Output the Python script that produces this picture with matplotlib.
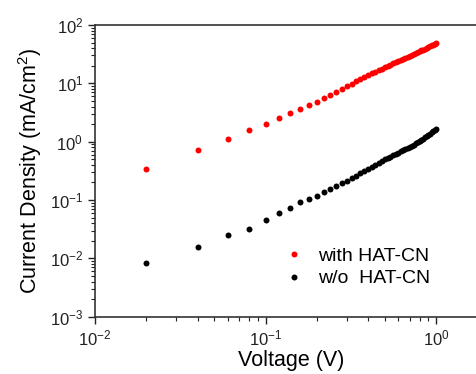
import numpy as np
import matplotlib
matplotlib.use("Agg")
import matplotlib.pyplot as plt
from matplotlib.ticker import NullFormatter, LogLocator

plt.rcParams["font.family"] = ["Liberation Sans", "DejaVu Sans"]
plt.rcParams["mathtext.fontset"] = "custom"
plt.rcParams["mathtext.rm"] = "Liberation Sans"
plt.rcParams["mathtext.it"] = "Liberation Sans:italic"

# voltage steps (V), same for both devices
voltage = [0.02, 0.04, 0.06, 0.08, 0.10, 0.12, 0.14, 0.16, 0.18, 0.20,
           0.22, 0.24, 0.26, 0.28, 0.30, 0.32, 0.34, 0.36, 0.38, 0.40,
           0.42, 0.44, 0.46, 0.48, 0.50, 0.52, 0.54, 0.56, 0.58, 0.60,
           0.62, 0.64, 0.66, 0.68, 0.70, 0.72, 0.74, 0.76, 0.78, 0.80,
           0.82, 0.84, 0.86, 0.88, 0.90, 0.92, 0.94, 0.96, 0.98, 1.00]

# current density (mA/cm2)
j_with = [0.343, 0.708, 1.11, 1.58, 2.03, 2.54, 3.09, 3.58, 4.19, 4.78,
          5.53, 6.22, 7.10, 7.96, 8.87, 9.82, 10.8, 11.8, 12.8, 13.8,
          14.8, 15.8, 16.9, 17.9, 18.9, 20.0, 21.0, 22.1, 23.1, 24.3,
          25.4, 26.4, 27.6, 28.7, 29.8, 30.8, 32.0, 33.2, 34.3, 35.5,
          36.8, 38.0, 39.3, 40.6, 42.1, 43.5, 44.8, 46.1, 47.5, 49.5]

j_without = [0.00828, 0.0156, 0.0247, 0.0321, 0.0452, 0.0589, 0.0735, 0.091, 0.1036, 0.118,
             0.137, 0.152, 0.173, 0.194, 0.216, 0.239, 0.263, 0.288, 0.316, 0.344,
             0.374, 0.404, 0.436, 0.466, 0.495, 0.525, 0.553, 0.585, 0.615, 0.647,
             0.679, 0.714, 0.750, 0.787, 0.821, 0.857, 0.894, 0.933, 0.971, 1.01,
             1.07, 1.12, 1.18, 1.24, 1.31, 1.37, 1.44, 1.51, 1.58, 1.68]

fig = plt.figure(figsize=(4.76, 3.74), dpi=100)
ax = fig.add_axes([0.1996, 0.1532, 0.8244, 0.78])

ax.plot(voltage, j_with, "o", color="red", markersize=4.3, markeredgewidth=0,
        label="with HAT-CN")
ax.plot(voltage, j_without, "o", color="black", markersize=4.3, markeredgewidth=0,
        label="w/o  HAT-CN")

ax.set_xscale("log")
ax.set_yscale("log")
ax.set_xlim(1e-2, 2)
ax.set_ylim(1e-3, 1e2)
ax.yaxis.set_major_locator(LogLocator(base=10, numticks=10))
ax.yaxis.set_minor_locator(LogLocator(base=10, subs=np.arange(2, 10), numticks=10))
ax.xaxis.set_minor_formatter(NullFormatter())
ax.yaxis.set_minor_formatter(NullFormatter())

for s in ax.spines.values():
    s.set_linewidth(1.2)
    s.set_color("#333333")

ax.tick_params(which="major", direction="out", length=5, width=1, labelsize=12,
               top=False, right=False, colors="#222222")
ax.tick_params(which="minor", direction="out", length=3, width=0.8,
               top=False, right=False, colors="#222222")

ax.set_xlabel("Voltage (V)", fontsize=15.5, labelpad=1.5)
ax.set_ylabel("Current Density (mA/cm$^2$)", fontsize=15.5, labelpad=4)

ax.legend(loc="center left", bbox_to_anchor=(0.483, 0.169), frameon=False,
          fontsize=14, handlelength=1.0, handletextpad=0.7, borderpad=0,
          borderaxespad=0, labelspacing=0.25, markerscale=1.0)

fig.savefig("out.png", dpi=100)
